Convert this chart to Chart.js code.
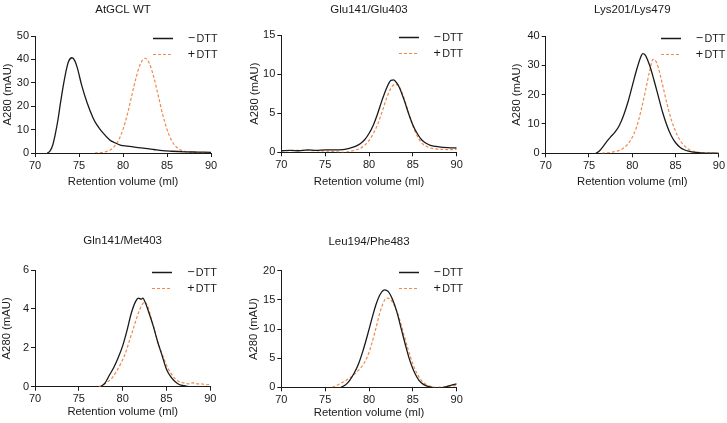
<!DOCTYPE html>
<html><head><meta charset="utf-8">
<script src="https://cdn.jsdelivr.net/npm/chart.js@4.4.1/dist/chart.umd.min.js"></script>
<style>
html,body{margin:0;padding:0;background:#fff;}
#wrap{position:relative;width:727px;height:423px;overflow:hidden;background:#fff;}
canvas{position:absolute;}
</style></head><body><div id="wrap"></div>
<script>
// ---- data (retention volume ml, A280 mAU) ----
const panelTitles = ["AtGCL WT", "Glu141/Glu403", "Lys201/Lys479", "Gln141/Met403", "Leu194/Phe483"];
const seriesLabels = ["DTT", "DTT"];
const seriesSigns = ["\u2212", "+"];
const yMaxes = [50, 15, 40, 6, 20];
const ySteps = [10, 5, 10, 2, 5];
const xMin = 70, xMax = 90, xStep = 5;

const wtMinus = [[71.4,0],[71.7,0.8],[72.0,3.2],[72.3,8],[72.6,14],[72.9,21.5],[73.2,28.5],[73.5,34.5],[73.8,39],[74.2,40.7],[74.5,39.6],[74.8,36.5],[75.3,29],[75.9,21.7],[76.6,15],[77.0,12.2],[77.6,9.1],[78.5,5.6],[79.0,4.5],[79.7,3.4],[80.5,2.9],[81.5,2.4],[82.5,2.0],[83.5,1.5],[84.5,1.0],[85.5,0.75],[87,0.5],[88.5,0.4],[90,0.3]];
const wtPlus = [[76.8,0],[77.5,0.2],[78.0,0.5],[78.5,1.2],[79.0,2.7],[79.5,5.5],[80.0,10.1],[80.5,16.6],[81.0,24.6],[81.5,32.4],[82.0,38.3],[82.5,40.5],[83.0,38.3],[83.5,32.4],[84.0,24.6],[84.5,16.6],[85.0,10.1],[85.5,5.5],[86.0,2.8],[86.5,1.4],[87.0,0.7],[88.0,0.3],[89.0,0.2],[90.0,0.2]];

const gluMinus = [[70,0.2],[71,0.25],[72,0.2],[73,0.3],[74,0.25],[75,0.3],[76,0.3],[77,0.35],[77.5,0.45],[78,0.6],[78.5,0.8],[79,1.1],[79.5,1.6],[80,2.4],[80.5,3.5],[81,5.0],[81.5,6.7],[82,8.2],[82.5,9.2],[82.8,9.25],[83.2,8.8],[83.5,8.2],[84,6.7],[84.5,5.0],[85,3.5],[85.5,2.4],[86,1.6],[86.5,1.15],[87,0.9],[88,0.7],[89,0.6],[90,0.55]];
const gluPlus = [[70,0.2],[72,0.25],[74,0.2],[76,0.1],[77,0],[78,0.15],[79,0.5],[79.5,0.9],[80,1.5],[80.5,2.4],[81,3.6],[81.5,5.2],[82,6.9],[82.5,8.2],[83,8.7],[83.3,8.6],[83.7,7.8],[84,6.9],[84.5,5.1],[85,3.4],[85.5,2.1],[86,1.2],[86.5,0.8],[87,0.55],[88,0.4],[89,0.35],[90,0.35]];

const lysMinus = [[75.8,0],[76.2,0.8],[76.6,2.2],[77.0,3.8],[77.5,5.6],[78.0,7.2],[78.5,9.5],[79.0,13],[79.5,17.5],[80.0,23],[80.5,28.5],[81.0,33],[81.2,34],[81.5,33.5],[82.0,30],[82.5,25],[83.0,19.5],[83.5,14],[84.0,9.5],[84.5,6],[85.0,3.6],[85.5,2.1],[86.0,1.2],[86.5,0.7],[87.0,0.4],[88.0,0.15],[89,0.05],[90,0]];
const lysPlus = [[76.5,0],[77,0.1],[77.5,0.3],[78,0.6],[78.5,1.0],[79,1.8],[79.5,3.2],[80,5.5],[80.5,9],[81,14.5],[81.5,21],[82,28],[82.4,32],[82.8,31],[83.2,27],[83.6,22],[84,17],[84.5,11.5],[85,7.5],[85.5,4.5],[86,2.6],[86.5,1.4],[87,0.7],[88,0.2],[89,0.05],[90,0]];

const glnMinus = [[77.5,0],[78,0.2],[78.5,0.6],[79,1.0],[79.5,1.5],[80,2.1],[80.5,2.9],[81,3.8],[81.5,4.4],[81.8,4.55],[82.1,4.5],[82.3,4.55],[82.6,4.3],[83,3.8],[83.5,3.1],[84,2.3],[84.5,1.6],[85,0.9],[85.5,0.5],[86,0.25],[86.5,0.1],[87,0.05],[87.5,0]];
const glnPlus = [[77.3,0],[77.8,0.1],[78.3,0.25],[78.8,0.45],[79.3,0.8],[79.8,1.2],[80.3,1.7],[80.8,2.4],[81.3,3.1],[81.8,3.8],[82.2,4.2],[82.5,4.35],[82.8,4.2],[83.2,3.6],[83.6,3.0],[84,2.3],[84.5,1.7],[85,1.1],[85.5,0.7],[86,0.4],[86.5,0.25],[87,0.2],[87.5,0.15],[88,0.2],[88.5,0.15],[89,0.15],[89.5,0.1],[90,0.12]];

const leuMinus = [[76.8,0],[77.3,0.4],[77.8,1.2],[78.3,2.4],[78.8,4.0],[79.3,6.2],[79.8,8.8],[80.3,11.6],[80.8,14.2],[81.3,16.0],[81.8,16.7],[82.2,16.4],[82.7,15.0],[83.2,12.8],[83.7,9.9],[84.2,7.0],[84.7,4.4],[85.2,2.5],[85.7,1.2],[86.2,0.5],[86.7,0.15],[87.2,0],[88,-0.1],[88.5,0],[89,0.2],[89.5,0.4],[90,0.6]];
const leuPlus = [[75.8,0],[76.3,0.3],[76.8,0.7],[77.3,1.1],[77.8,1.6],[78.3,2.2],[78.8,2.9],[79.3,3.8],[79.8,5.2],[80.3,7.4],[80.8,10.2],[81.3,13.1],[81.8,15.0],[82.1,15.3],[82.5,15.0],[83.0,13.7],[83.5,11.6],[84.0,8.9],[84.5,6.3],[85.0,4.0],[85.5,2.3],[86.0,1.1],[86.5,0.5],[87.0,0.15],[87.5,0],[88.5,0.05],[89,0.2],[89.5,0.25],[90,0.3]];

const minusSeries = [wtMinus, gluMinus, lysMinus, glnMinus, leuMinus];
const plusSeries = [wtPlus, gluPlus, lysPlus, glnPlus, leuPlus];

// ---- layout (pixels) ----
const layouts = [
  {x:0,   y:0,   w:240, h:200, l:35,   t:36,   r:211,   b:153,   yT:8.3, xT:181.7, tY:10},
  {x:240, y:0,   w:240, h:200, l:41.3, t:35,   r:216.7, b:152.3, yT:15,  xT:181.5, tY:9.5},
  {x:480, y:0,   w:247, h:200, l:65.7, t:36,   r:239.3, b:153.3, yT:37,  xT:182,   tY:10},
  {x:0,   y:200, w:240, h:223, l:35,   t:70,   r:210.3, b:186.7, yT:6.6, xT:211.7, tY:41},
  {x:240, y:200, w:240, h:223, l:41.3, t:70.7, r:216.7, b:187.3, yT:14,  xT:212.5, tY:42}
];

const BLACK = '#1a1a1a';
const ORANGE = '#ee8a4c';
const FONT = '"Liberation Sans", Arial, Helvetica, sans-serif';

const annot = {
  id: 'annot',
  afterDraw(chart, args, o) {
    const {ctx, chartArea: a} = chart;
    ctx.save();
    ctx.fillStyle = '#1a1a1a';
    ctx.font = '11.5px ' + FONT;
    ctx.textAlign = 'center';
    ctx.textBaseline = 'middle';
    ctx.fillText(o.title, (a.left + a.right) / 2, o.titleY);
    const rows = [
      {c: BLACK, dash: [], w: 1.5, sign: seriesSigns[0], label: seriesLabels[0]},
      {c: ORANGE, dash: [3, 2], w: 1.2, sign: seriesSigns[1], label: seriesLabels[1]}
    ];
    rows.forEach((rw, i) => {
      const yy = Math.round(a.top + 1.5 + i * 16) + 0.5;
      ctx.beginPath();
      ctx.setLineDash(rw.dash);
      ctx.strokeStyle = rw.c;
      ctx.lineWidth = rw.w;
      ctx.moveTo(Math.round(a.right - 58), yy);
      ctx.lineTo(Math.round(a.right - 38), yy);
      ctx.stroke();
      ctx.setLineDash([]);
      ctx.fillStyle = '#1a1a1a';
      ctx.font = '12.5px ' + FONT;
      ctx.textAlign = 'center';
      ctx.fillText(rw.sign, a.right - 19.5, yy);
      ctx.font = '10.8px ' + FONT;
      ctx.textAlign = 'left';
      ctx.fillText(rw.label, a.right - 14.5, yy + 0.5);
    });
    ctx.restore();
  }
};

const wrap = document.getElementById('wrap');
layouts.forEach((L, i) => {
  const cv = document.createElement('canvas');
  cv.width = L.w; cv.height = L.h;
  cv.style.left = L.x + 'px'; cv.style.top = L.y + 'px';
  cv.style.width = L.w + 'px'; cv.style.height = L.h + 'px';
  wrap.appendChild(cv);
  const lh = 11.3 * 1.2;
  const padLeft = Math.max(0, L.yT - lh / 2);
  const yW = L.l - padLeft;
  const scaleBottom = L.xT + lh / 2;
  const xH = scaleBottom - L.b;
  const padBottom = L.h - scaleBottom;
  new Chart(cv, {
    type: 'line',
    data: {
      datasets: [
        {label: '- DTT', data: minusSeries[i].map(p => ({x: p[0], y: p[1]})), borderColor: BLACK, borderWidth: 1.3, pointRadius: 0, cubicInterpolationMode: 'monotone', fill: false},
        {label: '+ DTT', data: plusSeries[i].map(p => ({x: p[0], y: p[1]})), borderColor: ORANGE, borderWidth: 1.2, borderDash: [3, 2], pointRadius: 0, cubicInterpolationMode: 'monotone', fill: false}
      ]
    },
    options: {
      responsive: false,
      animation: false,
      devicePixelRatio: 1,
      layout: {padding: {left: padLeft, top: L.t, right: L.w - L.r, bottom: padBottom}},
      plugins: {
        legend: {display: false},
        tooltip: {enabled: false},
        annot: {title: panelTitles[i], titleY: L.tY}
      },
      scales: {
        x: {
          type: 'linear', min: xMin, max: xMax,
          ticks: {stepSize: xStep, color: '#1a1a1a', font: {family: FONT, size: 11}, padding: 2, maxRotation: 0},
          grid: {drawOnChartArea: false, drawTicks: true, tickLength: 4, color: BLACK, tickWidth: 1},
          border: {display: true, color: BLACK, width: 1},
          title: {display: true, text: 'Retention volume (ml)', color: '#1a1a1a', font: {family: FONT, size: 11.3}, padding: 0},
          afterFit: s => { s.height = xH; }
        },
        y: {
          type: 'linear', min: 0, max: yMaxes[i],
          ticks: {stepSize: ySteps[i], color: '#1a1a1a', font: {family: FONT, size: 11}, padding: 2},
          grid: {drawOnChartArea: false, drawTicks: true, tickLength: 4, color: BLACK, tickWidth: 1},
          border: {display: true, color: BLACK, width: 1},
          title: {display: true, text: 'A280 (mAU)', color: '#1a1a1a', font: {family: FONT, size: 11.3}, padding: 0},
          afterFit: s => { s.width = yW; }
        }
      }
    },
    plugins: [annot]
  });
});
</script></body></html>
